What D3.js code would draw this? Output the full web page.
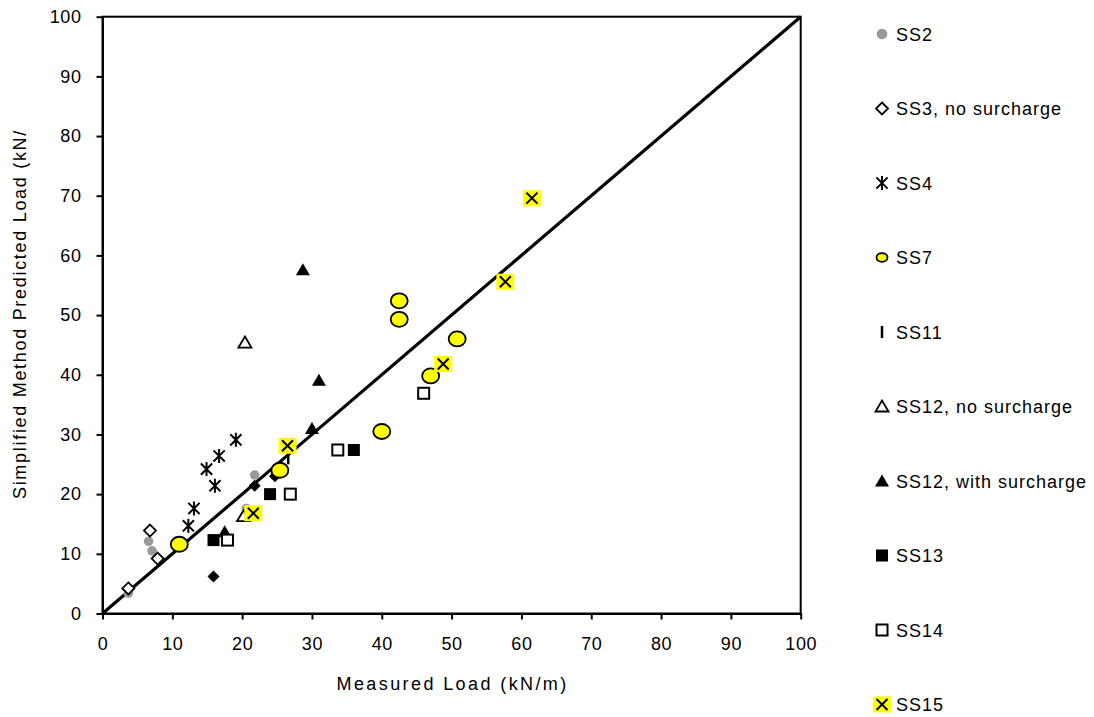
<!DOCTYPE html>
<html><head><meta charset="utf-8">
<script src="https://cdn.jsdelivr.net/npm/d3@7"></script>
<style>body{margin:0;background:#fff}svg{display:block;font-family:"Liberation Sans",Arial,sans-serif}</style>
</head><body><svg id="c" width="1094" height="717"></svg>
<script>
const xTicks = [0,10,20,30,40,50,60,70,80,90,100];
const yTicks = [0,10,20,30,40,50,60,70,80,90,100];
const xTitle = "Measured Load (kN/m)";
const yTitle = "Simplified Method Predicted Load (kN/";

const ss1 = [[15.9,6.2],[21.8,21.4],[24.7,23.0]];
const ss2 = [[3.7,3.4],[6.6,12.1],[7.1,10.5],[20.6,17.6],[21.8,23.2]];
const ss3 = [[3.7,4.2],[6.8,13.9],[7.9,9.2]];
const ss4 = [[12.3,14.7],[13.1,17.6],[14.9,24.2],[16.1,21.4],[16.7,26.4],[19.1,29.1]];
const ss7 = [[11.0,11.6],[25.4,24.0],[40.0,30.5],[42.5,49.3],[42.5,52.4],[47.0,39.8],[50.8,46.0]];
const ss11 = [[26.6,26.0]];
const ss12ns = [[20.2,16.3],[20.4,45.4]];
const ss12ws = [[17.5,13.7],[28.7,57.6],[30.0,31.0],[31.0,39.1]];
const ss13 = [[15.9,12.3],[24.0,20.0],[36.0,27.4]];
const ss14 = [[17.9,12.3],[26.9,20.0],[33.7,27.4],[46.0,36.9]];
const ss15 = [[21.6,16.8],[26.5,28.1],[48.8,41.8],[57.7,55.6],[61.5,69.6]];
const lineXY = [[0,0],[100,100]];

const series = [
  {name:null, data:ss1, m:"fdiamond"},
  {name:"SS2", data:ss2, m:"gcircle"},
  {name:"SS3, no surcharge", data:ss3, m:"odiamond"},
  {name:"SS4", data:ss4, m:"star"},
  {name:"SS7", data:ss7, m:"ycircle"},
  {name:"SS11", data:ss11, m:"bar"},
  {name:"SS12, no surcharge", data:ss12ns, m:"otri"},
  {name:"SS12, with surcharge", data:ss12ws, m:"ftri"},
  {name:"SS13", data:ss13, m:"fsquare"},
  {name:"SS14", data:ss14, m:"osquare"},
  {name:"SS15", data:ss15, m:"ysx"}
];

const svg = d3.select("#c");
const L=102.5, R=800.7, T=16.7, B=613.5;
const x = d3.scaleLinear().domain([0,100]).range([L,R]);
const y = d3.scaleLinear().domain([0,100]).range([B,T]);
const FONT = "'Liberation Sans',Arial,sans-serif";

svg.append("rect").attr("x",L).attr("y",T).attr("width",R-L).attr("height",B-T)
  .attr("fill","none").attr("stroke","#000").attr("stroke-width",2);

const gx = svg.append("g").attr("transform",`translate(0,${B})`)
  .call(d3.axisBottom(x).tickValues(xTicks).tickSize(6).tickPadding(18).tickSizeOuter(0));
const gy = svg.append("g").attr("transform",`translate(${L},0)`)
  .call(d3.axisLeft(y).tickValues(yTicks).tickSize(6).tickPadding(15).tickSizeOuter(0));
[gx,gy].forEach(g=>{
  g.select(".domain").attr("stroke","#000").attr("stroke-width",2);
  g.selectAll(".tick line").attr("stroke","#000").attr("stroke-width",2);
  g.selectAll(".tick text").attr("font-size",18).attr("fill","#000")
    .attr("font-family",FONT).attr("letter-spacing","0.6px");
});

svg.append("text").attr("x",(L+R)/2 + 1).attr("y",690).attr("text-anchor","middle")
  .attr("font-size",18).attr("letter-spacing","2.4px").text(xTitle);
svg.append("text").attr("transform",`translate(26,314) rotate(-90)`)
  .attr("text-anchor","middle").attr("font-size",18).attr("letter-spacing","1.7px").text(yTitle);

svg.append("path").datum(lineXY)
  .attr("d",d3.line().x(d=>x(d[0])).y(d=>y(d[1])))
  .attr("stroke","#000").attr("stroke-width",3.2).attr("fill","none");

function marker(g, m, leg){
  switch(m){
    case "fdiamond":
      g.append("path").attr("d","M0,-6L6,0L0,6L-6,0Z").attr("fill","#000"); break;
    case "gcircle":
      g.append("circle").attr("r",leg?5.3:4.8).attr("fill","#999"); break;
    case "odiamond":
      g.append("path").attr("d","M0,-6L6,0L0,6L-6,0Z").attr("fill","#fff").attr("stroke","#000").attr("stroke-width",1.8); break;
    case "star": {
      const r=7;
      g.append("path").attr("d",`M${-r*0.8},${-r*0.8}L${r*0.8},${r*0.8}M${-r*0.8},${r*0.8}L${r*0.8},${-r*0.8}M0,${-r}L0,${r}`)
        .attr("stroke","#000").attr("stroke-width",2).attr("fill","none"); break; }
    case "ycircle":
      g.append("ellipse").attr("rx",leg?5.5:8.5).attr("ry",leg?4.3:7.5).attr("fill","#ffff00").attr("stroke","#000").attr("stroke-width",1.8); break;
    case "bar":
      g.append("path").attr("d","M0,-6L0,6").attr("stroke","#000").attr("stroke-width",2.5); break;
    case "otri":
      g.append("path").attr("d","M0,-6L6.5,5L-6.5,5Z").attr("fill","#fff").attr("stroke","#000").attr("stroke-width",1.8); break;
    case "ftri":
      g.append("path").attr("d","M0,-6.5L7,5.5L-7,5.5Z").attr("fill","#000"); break;
    case "fsquare":
      g.append("rect").attr("x",-6).attr("y",-6).attr("width",12).attr("height",12).attr("fill","#000"); break;
    case "osquare":
      g.append("rect").attr("x",-5.5).attr("y",-5.5).attr("width",11).attr("height",11).attr("fill","#fff").attr("stroke","#000").attr("stroke-width",2); break;
    case "ysx":
      g.append("rect").attr("x",-9).attr("y",-8).attr("width",18).attr("height",16).attr("fill","#ffff00");
      g.append("path").attr("d","M-5.5,-5.5L5.5,5.5M-5.5,5.5L5.5,-5.5")
        .attr("stroke","#000").attr("stroke-width",2); break;
  }
}

series.forEach(sr=>{
  const gs = svg.append("g");
  sr.data.forEach(d=>{
    const g = gs.append("g").attr("transform",`translate(${x(d[0])},${y(d[1])})`);
    marker(g, sr.m, false);
  });
});

const legItems = series.filter(s=>s.name);
const ly = d3.scaleLinear().domain([0,9]).range([34,704.5]);
legItems.forEach((s,i)=>{
  const g = svg.append("g").attr("transform",`translate(882,${ly(i)})`);
  marker(g, s.m, true);
  svg.append("text").attr("x",896).attr("y",ly(i)+6.5).attr("font-size",18)
    .attr("letter-spacing","1px").attr("fill","#000").text(s.name);
});
</script></body></html>
